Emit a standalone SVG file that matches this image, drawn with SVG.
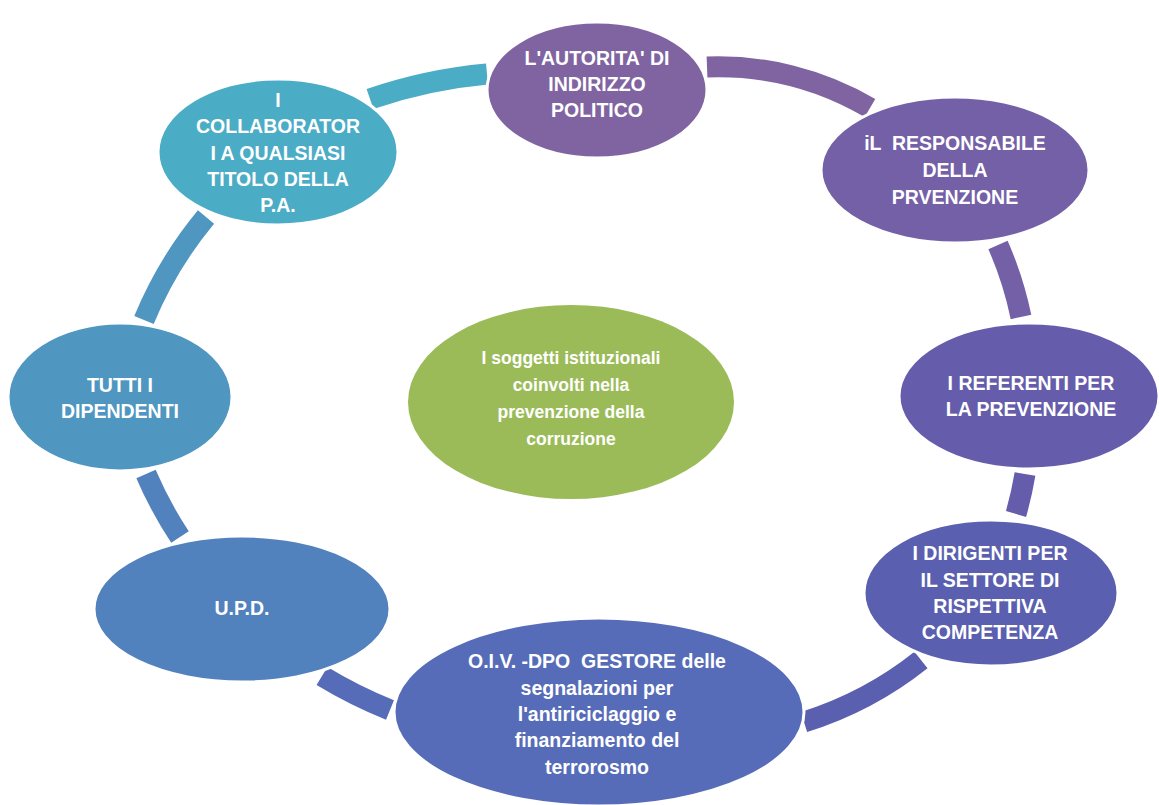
<svg xmlns="http://www.w3.org/2000/svg" width="1159" height="805" viewBox="0 0 1159 805">
<style>
.arc{fill:none;stroke-width:21;stroke-linecap:butt}
.node{stroke:#ffffff;stroke-width:3}
.lbl{font-family:"Liberation Sans",Arial,sans-serif;font-weight:bold;font-size:19.5px;fill:#ffffff;text-anchor:middle}
.ctr{font-size:17.5px}
</style>
<rect x="0" y="0" width="1159" height="805" fill="#ffffff"/>
<g id="connectors">
<path class="arc" stroke="#4BACC6" d="M370,99 A500,500 0 0,1 487,74"/>
<path class="arc" stroke="#8064A2" d="M707,67 A300,300 0 0,1 870,108"/>
<path class="arc" stroke="#7460A6" d="M998,245 A360,360 0 0,1 1021,317"/>
<path class="arc" stroke="#655DAB" d="M1025,474 A360,360 0 0,1 1016,514"/>
<path class="arc" stroke="#5A5FAF" d="M921,660 A360,360 0 0,1 804,722"/>
<path class="arc" stroke="#566CB8" d="M390,710 A445,340 0 0,1 322,676"/>
<path class="arc" stroke="#5282BD" d="M180,537 A400,400 0 0,1 146,474"/>
<path class="arc" stroke="#4F96C1" d="M144,320 A400,400 0 0,1 206,217"/>
</g>
<g id="center">
<ellipse cx="571" cy="402" rx="163" ry="97" fill="#9BBB59"/>
<text class="lbl ctr" x="571" y="364">I soggetti istituzionali</text>
<text class="lbl ctr" x="571" y="391">coinvolti nella</text>
<text class="lbl ctr" x="571" y="418">prevenzione della</text>
<text class="lbl ctr" x="571" y="445">corruzione</text>
</g>
<g id="autorita">
<ellipse class="node" cx="597" cy="90" rx="110" ry="68" fill="#8064A2"/>
<text class="lbl" x="597" y="65">L'AUTORITA' DI</text>
<text class="lbl" x="597" y="91">INDIRIZZO</text>
<text class="lbl" x="597" y="117">POLITICO</text>
</g>
<g id="responsabile">
<ellipse class="node" cx="955" cy="170" rx="134" ry="73" fill="#7460A6"/>
<text class="lbl" x="955" y="150" xml:space="preserve">iL  RESPONSABILE</text>
<text class="lbl" x="955" y="177">DELLA</text>
<text class="lbl" x="955" y="204">PRVENZIONE</text>
</g>
<g id="referenti">
<ellipse class="node" cx="1029" cy="396" rx="130" ry="73" fill="#655DAB"/>
<text class="lbl" x="1031" y="390">I REFERENTI PER</text>
<text class="lbl" x="1031" y="416">LA PREVENZIONE</text>
</g>
<g id="dirigenti">
<ellipse class="node" cx="991" cy="593" rx="127" ry="73" fill="#5A5FAF"/>
<text class="lbl" x="990" y="560">I DIRIGENTI PER</text>
<text class="lbl" x="990" y="587">IL SETTORE DI</text>
<text class="lbl" x="990" y="613">RISPETTIVA</text>
<text class="lbl" x="990" y="639">COMPETENZA</text>
</g>
<g id="oiv">
<ellipse class="node" cx="599" cy="712" rx="205" ry="94" fill="#566CB8"/>
<text class="lbl" x="597" y="668" xml:space="preserve">O.I.V. -DPO  GESTORE delle</text>
<text class="lbl" x="597" y="695">segnalazioni per</text>
<text class="lbl" x="597" y="721">l'antiriciclaggio e</text>
<text class="lbl" x="597" y="747">finanziamento del</text>
<text class="lbl" x="597" y="774">terrorosmo</text>
</g>
<g id="upd">
<ellipse class="node" cx="242" cy="609" rx="148" ry="73" fill="#5282BD"/>
<text class="lbl" x="242" y="615">U.P.D.</text>
</g>
<g id="dipendenti">
<ellipse class="node" cx="120" cy="397" rx="112" ry="74" fill="#4F96C1"/>
<text class="lbl" x="120" y="392">TUTTI I</text>
<text class="lbl" x="120" y="418">DIPENDENTI</text>
</g>
<g id="collaboratori">
<ellipse class="node" cx="278" cy="152" rx="120" ry="73" fill="#4BACC6"/>
<text class="lbl" x="278" y="107">I</text>
<text class="lbl" x="278" y="133">COLLABORATOR</text>
<text class="lbl" x="278" y="160">I A QUALSIASI</text>
<text class="lbl" x="278" y="186">TITOLO DELLA</text>
<text class="lbl" x="278" y="212">P.A.</text>
</g>
</svg>
